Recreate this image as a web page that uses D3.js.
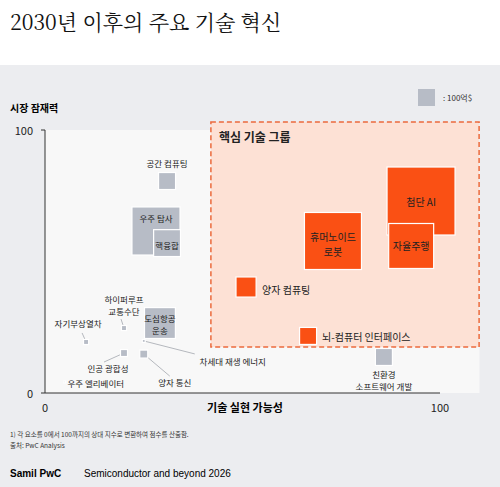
<!DOCTYPE html>
<html><head><meta charset="utf-8">
<script src="https://cdn.jsdelivr.net/npm/d3@7"></script>
<style>body{margin:0;font-family:"Noto Sans CJK KR",sans-serif;}</style>
</head><body><div id="chart"></div>
<script>
// values: feasibility (x), market potential (y), size in 억$
var names = ["공간 컴퓨팅","우주 탐사","핵융합","하이퍼루프|교통수단","자기부상열차","인공 광합성","우주 엘리베이터","도심항공|운송","차세대 재생 에너지","양자 통신","친환경|소프트웨어 개발","첨단 AI","자율주행","휴머노이드|로봇","양자 컴퓨팅","뇌-컴퓨터 인터페이스"];
var xVals = [30.9, 28.1, 30.9, 20, 10.4, 20, 5, 29.1, 25, 25, 85.8, 95.2, 92.7, 72.9, 50.9, 66.6];
var yVals = [80.6, 61.6, 57, 24.7, 19.4, 15.2, 4.2, 26.6, 19.8, 14.8, 13.7, 73, 55.9, 57.8, 40.3, 21.7];
var sizes = [100, 800, 250, 9, 9, 17, 1, 330, 3, 22, 100, 1600, 700, 1125, 140, 100];
var core = [false,false,false,false,false,false,false,false,false,false,false,true,true,true,true,true];
// label placement relative to the mark: dx, dy, anchor, leader-line end
var labelPos = [[0,-18,"middle"],[0,-13,"middle"],[0,2,"middle"],[0,-23,"middle",[-3,-9]],[-8,-19,"middle",[-4,-9]],[-16,15,"middle",[-20,9]],[31,1,"middle"],[0,1,"middle"],[89,20,"middle",[51,13]],[31,28,"middle",[26,22]],[0,23,"middle"],[0,0,"middle"],[0,0,"middle"],[0,3,"middle"],[16,2,"start"],[14,1,"start"]];
var groupX = [42, 109.9], groupY = [17.5, 103];
var xTicks = [0, 100], yTicks = [0, 100];

var W = 500, H = 487;
var svg = d3.select("#chart").append("svg").attr("width", W).attr("height", H);
svg.append("rect").attr("width", W).attr("height", H).attr("fill", "#fff");
svg.append("rect").attr("y", 65).attr("width", W).attr("height", H - 65).attr("fill", "#ecedf0");
svg.append("text").attr("x", 10).attr("y", 30).text("2030년 이후의 주요 기술 혁신")
    .style("font-size", 21).style("fill", "#111").style("font-family", "'Noto Serif CJK KR','Noto Sans CJK KR',serif");

var x = d3.scaleLinear().domain([0, 100]).range([45, 440]);
var y = d3.scaleLinear().domain([0, 100]).range([393, 130]);
var side = function (v) { return 17 * Math.sqrt(v / 100); };

svg.append("rect").attr("x", x(0)).attr("y", y(100)).attr("width", x(110) - x(0)).attr("height", y(0) - y(100)).attr("fill", "#f8f8f8");

svg.append("rect").attr("x", x(groupX[0])).attr("y", y(groupY[1]))
    .attr("width", x(groupX[1]) - x(groupX[0])).attr("height", y(groupY[0]) - y(groupY[1]))
    .attr("fill", "#fde1d5").attr("stroke", "#ec6a3c").attr("stroke-width", 1.5).attr("stroke-dasharray", "5,3");
svg.append("text").attr("x", x(groupX[0]) + 8).attr("y", y(groupY[1]) + 20).text("핵심 기술 그룹")
    .style("font-size", 12).style("font-weight", "bold").style("fill", "#222");

var g = svg.append("g");
g.append("line").attr("x1", x(0)).attr("x2", x(0)).attr("y1", y(100)).attr("y2", y(0)).attr("stroke", "#333");
g.append("line").attr("x1", x(0)).attr("x2", x(100)).attr("y1", y(0)).attr("y2", y(0)).attr("stroke", "#333");
yTicks.forEach(function (t) {
    g.append("line").attr("x1", x(0) - 4).attr("x2", x(0)).attr("y1", y(t)).attr("y2", y(t)).attr("stroke", "#333");
    g.append("text").attr("x", 33).attr("y", y(t)).attr("text-anchor", "end").attr("dominant-baseline", "central")
        .text(t).style("font-size", 11).style("fill", "#222");
});
xTicks.forEach(function (t) {
    g.append("text").attr("x", x(t)).attr("y", 412).attr("text-anchor", "middle").text(t).style("font-size", 11).style("fill", "#222");
});
g.append("text").attr("x", 10).attr("y", 112).text("시장 잠재력").style("font-size", 10).style("font-weight", "bold");
g.append("text").attr("x", 245).attr("y", 412).attr("text-anchor", "middle").text("기술 실현 가능성").style("font-size", 11).style("font-weight", "bold");

// legend
svg.append("rect").attr("x", 418).attr("y", 89).attr("width", 17).attr("height", 17).attr("fill", "#b7bcc6");
svg.append("text").attr("x", 443).attr("y", 101).text(": 100억$").style("font-size", 8).style("fill", "#333");

var data = names.map(function (n, i) {
    return { name: n, x: xVals[i], y: yVals[i], size: sizes[i], core: core[i], lab: labelPos[i] };
});

// leader lines
data.filter(function (d) { return d.lab[3]; }).forEach(function (d) {
    g.append("line").attr("x1", x(d.x)).attr("y1", y(d.y))
        .attr("x2", x(d.x) + d.lab[3][0]).attr("y2", y(d.y) + d.lab[3][1])
        .attr("stroke", "#b5b8be").attr("stroke-width", 1);
});

g.selectAll("rect.mark").data(data).enter().append("rect").attr("class", "mark")
    .attr("x", function (d) { return x(d.x) - side(d.size) / 2; })
    .attr("y", function (d) { return y(d.y) - side(d.size) / 2; })
    .attr("width", function (d) { return side(d.size); })
    .attr("height", function (d) { return side(d.size); })
    .attr("fill", function (d) { return d.core ? "#fa5014" : "#b7bcc6"; })
    .attr("stroke", "#fff").attr("stroke-width", 1.2);

data.forEach(function (d) {
    var lines = d.name.split("|");
    var lh = d.core ? 15 : 12.5;
    lines.forEach(function (l, i) {
        g.append("text").attr("text-anchor", d.lab[2])
            .attr("x", x(d.x) + d.lab[0])
            .attr("y", y(d.y) + d.lab[1] + (i - (lines.length - 1) / 2) * lh)
            .attr("dominant-baseline", "central")
            .style("font-size", d.core ? 10 : 8.5).style("fill", "#222")
            .text(l);
    });
});

svg.append("text").attr("x", 10).attr("y", 437).text("1) 각 요소를 0에서 100까지의 상대 지수로 변환하여 점수를 산출함.").style("font-size", 6.5).style("fill", "#333");
svg.append("text").attr("x", 10).attr("y", 448).text("출처: PwC Analysis").style("font-size", 6.5).style("fill", "#333");
svg.append("text").attr("x", 10).attr("y", 477).text("Samil PwC").style("font-size", 10).style("font-weight", "bold")
    .style("font-family", "Arial,'Liberation Sans',sans-serif");
svg.append("text").attr("x", 84).attr("y", 477).text("Semiconductor and beyond 2026").style("font-size", 10)
    .style("font-family", "Arial,'Liberation Sans',sans-serif");
</script></body></html>
